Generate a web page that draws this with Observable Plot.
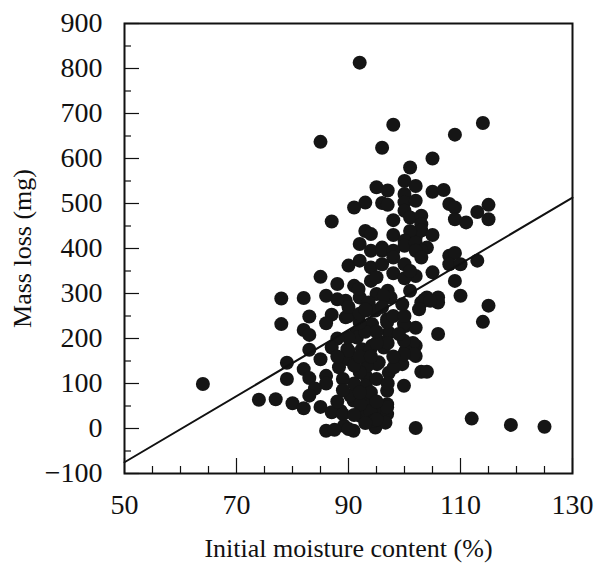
<!DOCTYPE html>
<html>
<head>
<meta charset="utf-8">
<script src="https://cdn.jsdelivr.net/npm/d3@7"></script>
<script src="https://cdn.jsdelivr.net/npm/@observablehq/plot@0.6"></script>
<style>
  html, body { margin: 0; padding: 0; background: #fff; }
  #chart svg { display: block; }
  #chart svg, #chart svg text { font-family: "Liberation Serif", "Times New Roman", Times, serif !important; }
  #chart svg [aria-label="x-axis label"] text, #chart svg [aria-label="y-axis label"] text { font-size: 26px; }
</style>
</head>
<body>
<div id="chart"></div>
<script>
// Initial moisture content (%)
const moisture = [
  64, 92, 85, 98, 96, 105, 109, 114, 101, 112, 119, 125, 115, 114, 87,
  100, 102, 95, 97, 105, 107, 100, 100, 102, 93, 91, 96, 97, 108, 109, 115, 113, 115, 109, 111, 98, 100, 101, 103, 103, 102, 103, 105, 93, 94, 98, 101, 100, 92, 96, 100, 102, 104, 103, 94, 96, 98, 102, 108, 109, 103, 108, 110, 113, 105, 102, 109, 110, 104, 106, 103.5, 106, 103, 102.6, 106, 102, 102, 103, 104,
  90, 92, 94, 96, 98, 100, 88, 91, 94, 95, 98, 100, 92, 95, 97, 101,
  89.5, 93.6, 94.8, 97.5, 99.6, 89.5, 94.2, 96.9, 100.2, 102, 91.2, 97.2, 96, 101.5, 89.8, 92.4, 94.2, 100.2, 88.3, 90, 93.3, 95.4, 97.2, 99.6, 93.1, 93.1, 96.9, 99.9, 90.9, 93.1, 96.9, 92.1, 94.8, 96.9, 88.6, 89.2, 90.9, 94.8, 96.6, 102,
  95.1, 92.1, 93.9, 91.8, 96.3, 104.6, 96.9, 99.9, 101.7, 99.9, 96.3, 93.9, 91.5, 93.3, 98.1, 99.9, 90.3, 92.1, 94.5, 96.9, 93.1,
  85, 78, 82, 86, 88, 78, 83, 87, 86, 90, 82, 83, 90, 83, 90, 79, 85, 82, 79, 83, 86, 86, 84, 74, 77, 80, 83, 82, 85, 87, 89, 86, 87.5, 90,
  91, 92, 94, 95, 95, 91, 92, 94, 98, 97, 95, 93, 91, 95, 97, 93, 95, 99, 92, 90, 92, 88, 87, 88, 89, 88, 89, 92, 93, 96, 98, 100, 101
];
// Mass loss (mg)
const massLoss = [
  99, 813, 637, 675, 624, 600, 653, 679, 580, 22, 8, 4, 273, 237, 460,
  550, 539, 536, 529, 526, 530, 521, 503, 506, 502, 491, 501, 497, 499, 491, 497, 481, 465, 465, 458, 463, 484, 469, 473, 454, 425, 440, 430, 439, 432, 430, 439, 417, 410, 402, 406, 413, 402, 395, 395, 395, 395, 395, 384, 390, 380, 365, 365, 373, 347, 339, 328, 295, 291, 291, 286, 280, 280, 265, 210, 184, 161, 126, 126,
  362, 373, 358, 365, 380, 365, 321, 317, 328, 336, 345, 334, 291, 299, 306, 306,
  284, 280, 262, 291, 276, 247, 232, 243, 228, 224, 210, 213, 191, 190, 176, 176, 184, 173, 136, 154, 147, 147, 124, 143, 117, 95, 84, 95, 62, 62, 54, 36, 39, 32, 39, 6, -5, 2, 13, 1,
  143, 28, 39, 310, 295, 284, 236, 232, 165, 165, 180, 176, 202, 139, 136, 195, 73, 54, 17, 47, 262,
  337, 289, 290, 295, 287, 232, 249, 253, 234, 250, 219, 208, 202, 175, 173, 146, 154, 132, 110, 112, 117, 100, 89, 64, 65, 56, 73, 45, 48, 36, 32, -5, -3, -1,
  100, 125, 80, 110, 60, 140, 160, 160, 160, 190, 20, 12, 30, 190, 100, 215, 215, 210, 235, 270, 255, 200, 180, 160, 110, 60, 85, 80, 265, 270, 250, 250, 350
];
// Fitted regression line end values
const fitX = [50, 130];
const fitY = [-75, 513];
// Tick values
const xMajor = [50, 70, 90, 110, 130];
const xMinor = [55, 60, 65, 75, 80, 85, 95, 100, 105, 115, 120, 125];
const yMajor = [-100, 0, 100, 200, 300, 400, 500, 600, 700, 800, 900];
const yMinor = [-50, 50, 150, 250, 350, 450, 550, 650, 750, 850];

const points = moisture.map((m, i) => ({m, loss: massLoss[i]}));
const fit = fitX.map((x, i) => ({x, y: fitY[i]}));

const W = 610, H = 566;
const mL = 124, mR = 38, mT = 23, mB = 93;
const fw = W - mL - mR, fh = H - mT - mB;

const chart = Plot.plot({
  width: W,
  height: H,
  marginLeft: mL,
  marginRight: mR,
  marginTop: mT,
  marginBottom: mB,
  style: {fontFamily: "Liberation Serif, Times New Roman, serif", fontSize: "28px", color: "#111", background: "#fff"},
  x: {domain: [50, 130]},
  y: {domain: [-100, 900]},
  marks: [
    Plot.dot(points, {x: "m", y: "loss", r: 7, fill: "#151515", stroke: "none"}),
    Plot.line(fit, {x: "x", y: "y", stroke: "#111", strokeWidth: 2}),
    // inward ticks
    Plot.ruleX(xMajor, {x: d => d, insetTop: fh - 15, stroke: "#111", strokeWidth: 1.2}),
    Plot.ruleX(xMinor, {x: d => d, insetTop: fh - 7, stroke: "#111", strokeWidth: 1.2}),
    Plot.ruleY(yMajor, {y: d => d, insetRight: fw - 15, stroke: "#111", strokeWidth: 1.2}),
    Plot.ruleY(yMinor, {y: d => d, insetRight: fw - 7, stroke: "#111", strokeWidth: 1.2}),
    Plot.axisX({ticks: xMajor, tickSize: 0, tickPadding: 21, tickFormat: d => String(d), label: null, fontSize: 28}),
    Plot.axisY({ticks: yMajor, tickSize: 0, tickPadding: 22, tickFormat: d => d < 0 ? "\u2212" + Math.abs(d) : String(d), label: null, fontSize: 28}),
    Plot.axisX({ticks: [], tickSize: 0, label: "Initial moisture content (%)", labelAnchor: "center", labelOffset: 83, labelArrow: "none", fontSize: 26}),
    Plot.axisY({ticks: [], tickSize: 0, label: "Mass loss (mg)", labelAnchor: "center", labelOffset: 112, labelArrow: "none", fontSize: 26}),
    Plot.frame({stroke: "#111", strokeWidth: 2})
  ]
});
document.getElementById("chart").appendChild(chart);
</script>
</body>
</html>
